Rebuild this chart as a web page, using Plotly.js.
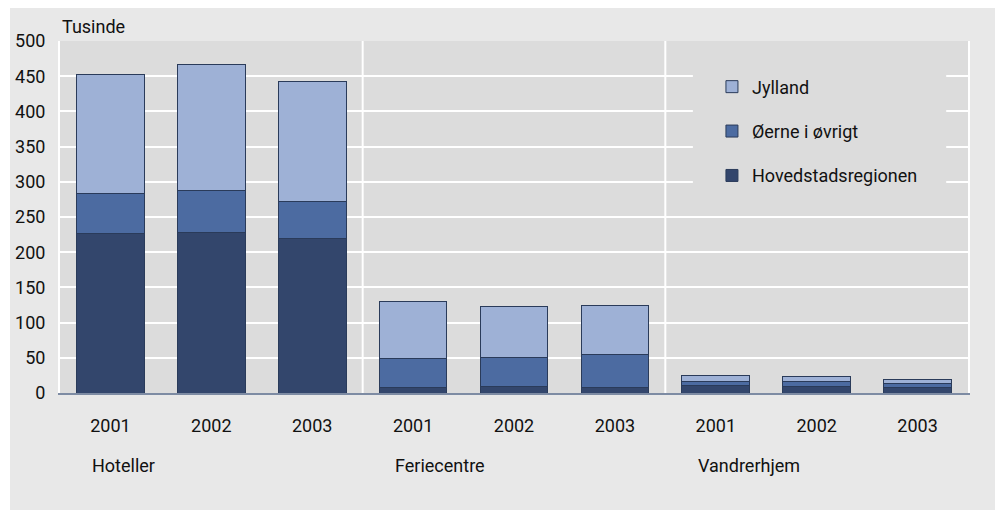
<!DOCTYPE html>
<html>
<head>
<meta charset="utf-8">
<script src="https://cdn.plot.ly/plotly-3.0.1.min.js"></script>
<style>
  html, body { margin: 0; padding: 0; background: #ffffff; width: 999px; height: 510px; overflow: hidden; }
  #chart { position: absolute; left: 10px; top: 8px; width: 985px; height: 502px; }
</style>
</head>
<body>
<div id="chart"></div>
<script>
// ---- data (thousands) ----
var groups = ["Hoteller", "Feriecentre", "Vandrerhjem"];
var years = ["2001", "2002", "2003"];
var seriesNames = ["Hovedstadsregionen", "Øerne i øvrigt", "Jylland"];
var hovedstadsregionen = [227, 228, 219, 8, 9, 8, 10, 9, 8];
var oerneIOevrigt = [57, 60, 53, 41, 41, 46, 7, 7, 5];
var jylland = [168, 179, 171, 81, 73, 71, 8, 8, 6];
var yTicks = [0, 50, 100, 150, 200, 250, 300, 350, 400, 450, 500];
var yTitle = "Tusinde";

// ---- build positions from the data arrays ----
var xPos = [], xText = [];
groups.forEach(function (g, gi) {
  years.forEach(function (y, yi) {
    xPos.push(gi * years.length + yi);
    xText.push(y);
  });
});

var FONT = "Roboto, 'Liberation Sans', sans-serif";
var colors = ["#33466c", "#4c6ba1", "#9eb1d6"];
var values = [hovedstadsregionen, oerneIOevrigt, jylland];

var traces = values.map(function (v, i) {
  return {
    type: "bar",
    x: xPos,
    y: v,
    name: seriesNames[i],
    legendgroup: "g" + i,
    legendrank: values.length - i,
    marker: { color: colors[i], line: { color: "#2a3b5a", width: 1 } },
    hoverinfo: "y+name"
  };
});

var shapes = [];
// legend backdrop
shapes.push({
  type: "rect", xref: "paper", yref: "paper",
  x0: 0.697, x1: 0.976, y0: 0.55, y1: 0.96,
  fillcolor: "#dcdcdc", line: { width: 0 }, layer: "above"
});
// group separators
for (var gi = 1; gi < groups.length; gi++) {
  var xs = gi * years.length - 0.5;
  shapes.push({
    type: "line", xref: "x", yref: "paper",
    x0: xs, x1: xs, y0: 0, y1: 1,
    line: { color: "#ffffff", width: 2 }, layer: "below"
  });
}

var annotations = groups.map(function (g, gi) {
  return {
    text: g, xref: "x", yref: "paper",
    x: gi * years.length - 0.2, y: -0.205,
    xanchor: "left", yanchor: "middle",
    showarrow: false,
    font: { family: FONT, size: 18, color: "#111111" }
  };
});
annotations.push({
  text: yTitle, xref: "paper", yref: "paper",
  x: 0.0, y: 1.04, xanchor: "left", yanchor: "middle",
  showarrow: false,
  font: { family: FONT, size: 18, color: "#111111" }
});

var layout = {
  width: 985, height: 502,
  margin: { l: 50, r: 27, t: 33, b: 117 },
  paper_bgcolor: "#e8e8e8",
  plot_bgcolor: "#dcdcdc",
  barmode: "stack",
  bargap: 0.33,
  font: { family: FONT, size: 18, color: "#111111" },
  xaxis: {
    range: [-0.5, xPos.length - 0.5],
    tickvals: xPos, ticktext: xText,
    showgrid: false, zeroline: false,
    showline: true, linecolor: "#7d8ba3", linewidth: 1.5,
    ticks: "", ticklabelstandoff: 16,
    tickfont: { family: FONT, size: 18, color: "#111111" },
    fixedrange: true
  },
  yaxis: {
    range: [0, 500],
    tickvals: yTicks,
    showgrid: true, gridcolor: "#ffffff", gridwidth: 2,
    zeroline: false,
    showline: true, linecolor: "#ffffff", linewidth: 2, mirror: true,
    ticks: "", ticklabelstandoff: 9,
    tickfont: { family: FONT, size: 18, color: "#111111" },
    fixedrange: true
  },
  showlegend: true,
  legend: {
    x: 0.718, y: 0.922, xanchor: "left", yanchor: "top",
    bgcolor: "rgba(0,0,0,0)",
    traceorder: "grouped",
    tracegroupgap: 18,
    itemwidth: 30,
    font: { family: FONT, size: 18, color: "#111111" }
  },
  shapes: shapes,
  annotations: annotations
};

Plotly.newPlot("chart", traces, layout, { displayModeBar: false, staticPlot: true });
</script>
</body>
</html>
